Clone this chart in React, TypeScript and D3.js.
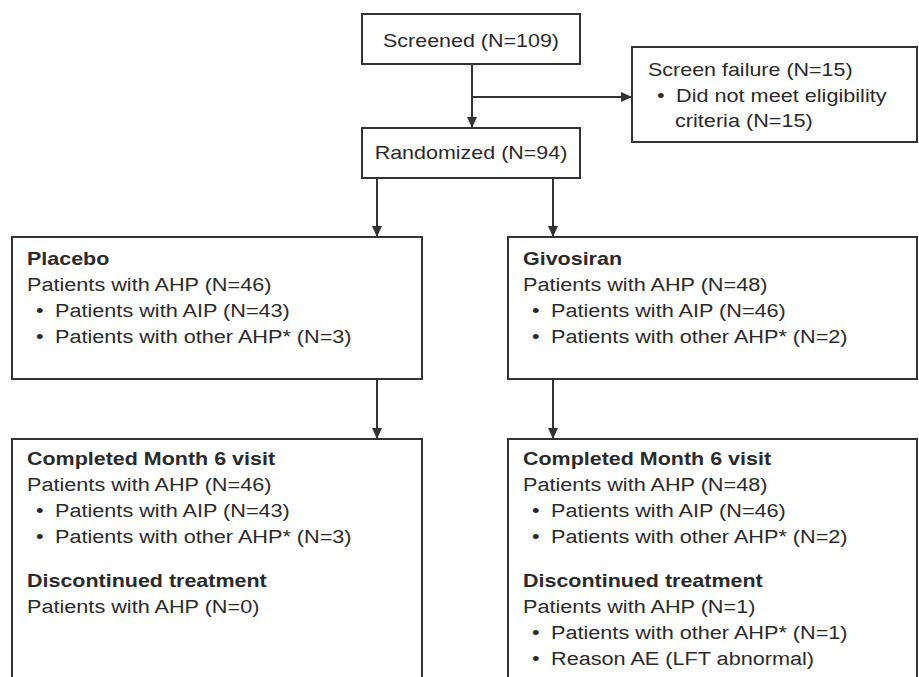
import React from "react";
import * as d3 from "d3";

// ---- data ----
const screenedN = 109;
const screenFailN = 15;
const ineligibleN = 15;
const randomizedN = 94;
const arms = ["Placebo", "Givosiran"];
const ahpN = [46, 48];
const aipN = [43, 46];
const otherAhpN = [3, 2];
const completedAhpN = [46, 48];
const completedAipN = [43, 46];
const completedOtherN = [3, 2];
const discontinuedAhpN = [0, 1];
const discontinuedOtherN: (number | null)[] = [null, 1];
const discontinuedReason: (string | null)[] = [null, "Reason AE (LFT abnormal)"];

// ---- style ----
const W = 919;
const H = 677;
const FS = 19;
const SX = 1.14;
const LINE = "#333";
const TEXT = "#2a2a2a";
const FONT = "'Liberation Sans', Arial, Helvetica, sans-serif";

const armX = d3.scaleOrdinal<string, number>().domain(arms).range([12, 508]);
const armRight = d3.scaleOrdinal<string, number>().domain(arms).range([422, 917]);
const armArrowX = d3.scaleOrdinal<string, number>().domain(arms).range([377, 553]);

function T({ x, y, children, bold = false, anchor = "start", sx = SX }: any) {
  return (
    <text
      transform={`translate(${x},${y}) scale(${sx},1)`}
      fontFamily={FONT}
      fontSize={FS}
      fontWeight={bold ? "bold" : "normal"}
      fill={TEXT}
      textAnchor={anchor}
    >
      {children}
    </text>
  );
}

function Bullet({ x, y, children }: any) {
  return (
    <g>
      <T x={x} y={y}>•</T>
      <T x={x + 19} y={y}>{children}</T>
    </g>
  );
}

function Box({ x0, y0, x1, y1 }: any) {
  return <rect x={x0} y={y0} width={x1 - x0} height={y1 - y0} fill="#fff" stroke={LINE} strokeWidth={2} />;
}

function Arrow({ pts }: { pts: [number, number][] }) {
  const p = d3.path();
  pts.forEach(([x, y], i) => (i === 0 ? p.moveTo(x, y) : p.lineTo(x, y)));
  const [xa, ya] = pts[pts.length - 2];
  const [xb, yb] = pts[pts.length - 1];
  const ang = Math.atan2(yb - ya, xb - xa);
  const L = 11, Wd = 5;
  const bx = xb - L * Math.cos(ang), by = yb - L * Math.sin(ang);
  const head = d3.path();
  head.moveTo(xb, yb);
  head.lineTo(bx + Wd * Math.sin(ang), by - Wd * Math.cos(ang));
  head.lineTo(bx - Wd * Math.sin(ang), by + Wd * Math.cos(ang));
  head.closePath();
  return (
    <g>
      <path d={p.toString()} fill="none" stroke={LINE} strokeWidth={2} />
      <path d={head.toString()} fill={LINE} stroke="none" />
    </g>
  );
}

export default function App() {
  return (
    <svg width={W} height={H} style={{ position: "absolute", left: 0, top: 0, background: "#fff" }}>
      <rect width={W} height={H} fill="#fff" />
      {/* connectors */}
      <Arrow pts={[[472, 64], [472, 128]]} />
      <Arrow pts={[[472, 97], [632, 97]]} />
      {arms.map((a) => (
        <g key={a}>
          <Arrow pts={[[armArrowX(a), 178], [armArrowX(a), 237]]} />
          <Arrow pts={[[armArrowX(a), 379], [armArrowX(a), 439]]} />
        </g>
      ))}

      {/* Screened */}
      <Box x0={362} y0={14} x1={580} y1={64} />
      <T x={471} y={47} anchor="middle" sx={1.13}>{`Screened (N=${screenedN})`}</T>

      {/* Screen failure */}
      <Box x0={632} y0={47} x1={917} y1={142} />
      <T x={648} y={76} sx={1.13}>{`Screen failure (N=${screenFailN})`}</T>
      <Bullet x={657} y={102}>Did not meet eligibility</Bullet>
      <T x={675} y={127}>{`criteria (N=${ineligibleN})`}</T>

      {/* Randomized */}
      <Box x0={362} y0={128} x1={580} y1={178} />
      <T x={471} y={159} anchor="middle" sx={1.13}>{`Randomized (N=${randomizedN})`}</T>

      {arms.map((a, i) => {
        const x0 = armX(a);
        const x1 = armRight(a);
        const tx = x0 + 15;
        const bx = x0 + 24;
        return (
          <g key={a}>
            <Box x0={x0} y0={237} x1={x1} y1={379} />
            <T x={tx} y={265} bold sx={1.13}>{a}</T>
            <T x={tx} y={291}>{`Patients with AHP (N=${ahpN[i]})`}</T>
            <Bullet x={bx} y={317}>{`Patients with AIP (N=${aipN[i]})`}</Bullet>
            <Bullet x={bx} y={343}>{`Patients with other AHP* (N=${otherAhpN[i]})`}</Bullet>

            <Box x0={x0} y0={439} x1={x1} y1={700} />
            <T x={tx} y={465} bold sx={1.13}>Completed Month 6 visit</T>
            <T x={tx} y={491}>{`Patients with AHP (N=${completedAhpN[i]})`}</T>
            <Bullet x={bx} y={517}>{`Patients with AIP (N=${completedAipN[i]})`}</Bullet>
            <Bullet x={bx} y={543}>{`Patients with other AHP* (N=${completedOtherN[i]})`}</Bullet>
            <T x={tx} y={587} bold sx={1.13}>Discontinued treatment</T>
            <T x={tx} y={613}>{`Patients with AHP (N=${discontinuedAhpN[i]})`}</T>
            {discontinuedOtherN[i] !== null && (
              <Bullet x={bx} y={639}>{`Patients with other AHP* (N=${discontinuedOtherN[i]})`}</Bullet>
            )}
            {discontinuedReason[i] !== null && <Bullet x={bx} y={665}>{discontinuedReason[i]}</Bullet>}
          </g>
        );
      })}
    </svg>
  );
}
